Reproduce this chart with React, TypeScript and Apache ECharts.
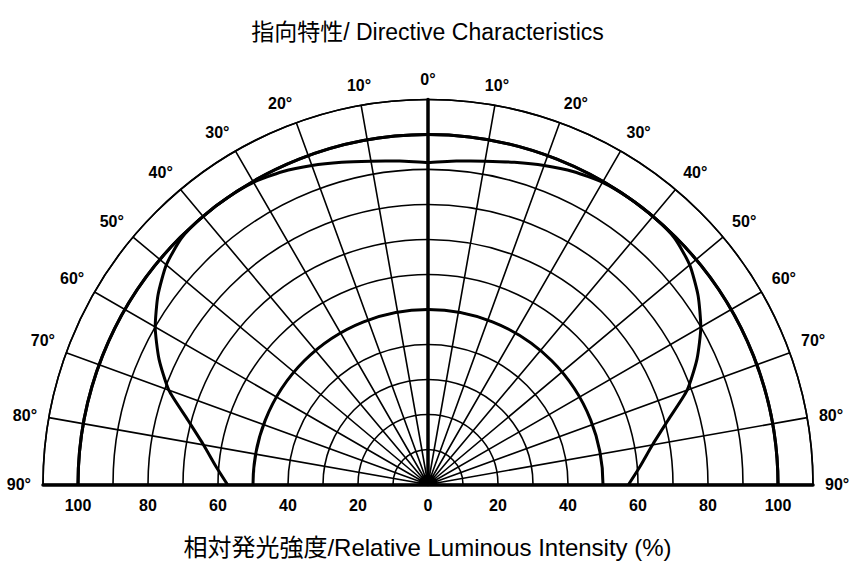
import React, { useEffect, useRef } from 'react';
import * as echarts from 'echarts';

// ---- Texts ----
const titleText = '指向特性/ Directive Characteristics';
const axisTitleText = '相対発光強度/Relative Luminous Intensity (%)';

// ---- Data ----
// angle from the optical axis (deg), symmetric on both sides
const angleDeg = [0, 5, 10, 15, 20, 25, 30, 35, 40, 45, 50, 55, 60, 65, 70, 75, 80, 85, 90];
// relative luminous intensity (%)
const intensity = [92, 92.8, 93.8, 95.3, 97, 98.6, 99.7, 100, 100, 99.6, 97.6, 94.2, 90, 84.8, 78.8, 71, 65.1, 60.9, 57.3];

// ---- Axes / tick labels ----
const angleMin = -90;
const angleMax = 90;
const angleStep = 10;
const radiusMax = 110;
const radiusStep = 10;
const radiusLabels = [0, 20, 40, 60, 80, 100];
const majorRingMax = 100;
const majorRingStep = 50;

const CX = 428;
const CY = 484.5;
const PX_PER_UNIT = 3.5;
const R_OUT = radiusMax * PX_PER_UNIT;
const R_MAJOR = majorRingMax * PX_PER_UNIT;

const FONT = '"Liberation Sans", Arial, "Noto Sans CJK JP", sans-serif';
const TICK_FONT = '"Liberation Sans", Arial, sans-serif';

export default function App() {
  const ref = useRef<HTMLDivElement>(null);

  useEffect(() => {
    if (!ref.current) return;
    const chart = echarts.init(ref.current, undefined, { renderer: 'svg' });

    const curve: [number, number][] = [];
    for (let i = angleDeg.length - 1; i >= 0; i--) curve.push([intensity[i], -angleDeg[i]]);
    for (let i = 1; i < angleDeg.length; i++) curve.push([intensity[i], angleDeg[i]]);

    const thin = { color: '#000', width: 1.6 };
    const thick = { color: '#000', width: 3 };

    const option = {
      animation: false,
      backgroundColor: '#fff',
      title: [
        {
          text: titleText,
          left: 'center',
          top: 15,
          textStyle: { fontSize: 23, fontWeight: 'normal', color: '#000', fontFamily: FONT },
        },
        {
          text: axisTitleText,
          left: 'center',
          top: 530,
          textStyle: { fontSize: 24, fontWeight: 'normal', color: '#000', fontFamily: FONT },
        },
      ],
      polar: [
        { center: [CX, CY], radius: R_OUT },
        { center: [CX, CY], radius: R_MAJOR },
      ],
      angleAxis: [
        {
          polarIndex: 0,
          type: 'value',
          min: angleMin,
          max: angleMax,
          interval: angleStep,
          startAngle: 180,
          endAngle: 0,
          clockwise: true,
          axisLine: { show: true, lineStyle: thin },
          axisTick: { show: false },
          axisLabel: {
            show: true,
            margin: 12,
            color: '#000',
            fontSize: 16,
            fontWeight: 'bold',
            fontFamily: TICK_FONT,
            formatter: (v: number) => Math.abs(v) + '°',
          },
          splitLine: { show: true, lineStyle: thin },
        },
        {
          polarIndex: 1,
          type: 'value',
          min: angleMin,
          max: angleMax,
          interval: angleStep,
          startAngle: 180,
          endAngle: 0,
          clockwise: true,
          axisLine: { show: true, lineStyle: thick },
          axisTick: { show: false },
          axisLabel: { show: false },
          splitLine: { show: false },
        },
      ],
      radiusAxis: [
        {
          polarIndex: 0,
          type: 'value',
          min: 0,
          max: radiusMax,
          interval: radiusStep,
          axisLine: { show: false },
          axisTick: { show: false },
          axisLabel: { show: false },
          splitLine: { show: true, lineStyle: thin },
        },
        {
          polarIndex: 1,
          type: 'value',
          min: 0,
          max: majorRingMax,
          interval: majorRingStep,
          axisLine: { show: false },
          axisTick: { show: false },
          axisLabel: { show: false },
          splitLine: { show: true, lineStyle: thick },
        },
      ],
      grid: {
        left: CX - R_OUT,
        top: CY - R_OUT,
        width: 2 * R_OUT,
        height: R_OUT,
        containLabel: false,
      },
      xAxis: {
        type: 'value',
        min: -radiusMax,
        max: radiusMax,
        interval: radiusStep,
        axisLine: { show: true, onZero: true, lineStyle: { color: '#000', width: 3.5 } },
        axisTick: { show: false },
        splitLine: { show: false },
        axisLabel: {
          show: true,
          margin: 13,
          color: '#000',
          fontSize: 16,
          fontWeight: 'bold',
          fontFamily: TICK_FONT,
          formatter: (v: number) => (radiusLabels.indexOf(Math.abs(v)) >= 0 ? String(Math.abs(v)) : ''),
        },
      },
      yAxis: {
        type: 'value',
        min: 0,
        max: radiusMax,
        interval: radiusStep,
        axisLine: { show: true, onZero: true, lineStyle: { color: '#000', width: 3.5 } },
        axisTick: { show: false },
        axisLabel: { show: false },
        splitLine: { show: false },
      },
      series: [
        {
          type: 'line',
          name: 'intensity',
          coordinateSystem: 'polar',
          polarIndex: 0,
          data: curve,
          smooth: 0.2,
          symbol: 'none',
          lineStyle: { color: '#000', width: 3 },
          z: 5,
        },
      ],
    };

    chart.setOption(option as any);
    return () => chart.dispose();
  }, []);

  return (
    <div
      ref={ref}
      style={{ position: 'fixed', left: 0, top: 0, width: 855, height: 563, background: '#fff' }}
    />
  );
}
